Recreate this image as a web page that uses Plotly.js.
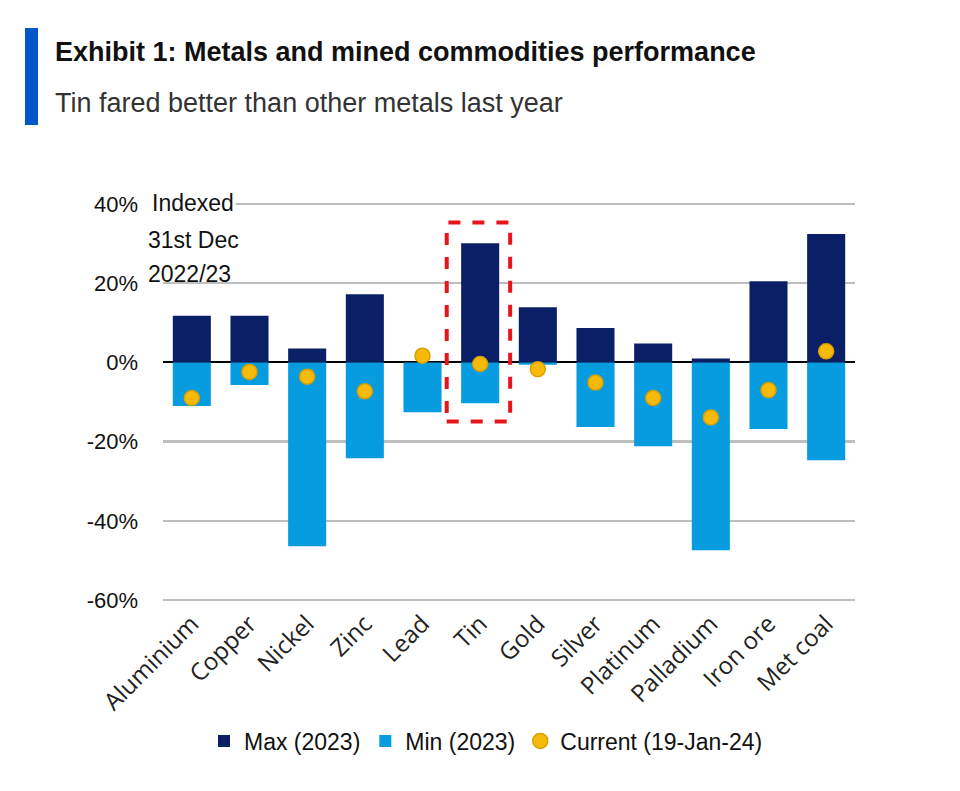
<!DOCTYPE html>
<html><head><meta charset="utf-8">
<script src="https://cdn.plot.ly/plotly-3.0.1.min.js"></script>
<style>body{margin:0;background:#fff}#chart{width:960px;height:791px}</style>
</head><body><div id="chart"></div>
<script>
var categories = ["Aluminium","Copper","Nickel","Zinc","Lead","Tin","Gold","Silver","Platinum","Palladium","Iron ore","Met coal"];
var maxValues = [11.8, 11.8, 3.5, 17.2, 0, 30.1, 13.9, 8.7, 4.8, 1.0, 20.5, 32.4];
var minValues = [-11.0, -5.7, -46.4, -24.2, -12.6, -10.3, -0.6, -16.3, -21.2, -47.4, -16.8, -24.7];
var currentValues = [-9.0, -2.4, -3.6, -7.3, 1.7, -0.4, -1.7, -5.1, -9.0, -13.9, -7.0, 2.8];
var yTicks = [-60, -40, -20, 0, 20, 40];
var yTickLabels = ["-60%", "-40%", "-20%", "0%", "20%", "40%"];

var W = 960, H = 791, L = 163, R = 105, T = 200, B = 187;
var pw = W - L - R, ph = H - T - B;
function px(x){ return (x - L) / pw; }
function py(y){ return (H - B - y) / ph; }

var narrow = "Liberation Sans Narrow, Arial Narrow, Liberation Sans, sans-serif";
var traces = [
  {type:"bar", name:"Max (2023)", x:categories, y:maxValues, width:0.66,
   marker:{color:"#0B1F66"}, hoverinfo:"skip"},
  {type:"bar", name:"Min (2023)", x:categories, y:minValues, width:0.66,
   marker:{color:"#079CDF"}, hoverinfo:"skip"},
  {type:"scatter", mode:"markers", name:"Current (19-Jan-24)", x:categories, y:currentValues,
   marker:{color:"#F7BA0B", size:15, line:{color:"#D9A100", width:1.5}}, hoverinfo:"skip"}
];

var layout = {
  width: W, height: H,
  margin:{l:L, r:R, t:T, b:B},
  paper_bgcolor:"#fff", plot_bgcolor:"#fff",
  barmode:"overlay",
  showlegend:true,
  legend:{orientation:"h", x:px(486), xanchor:"center", y:py(741), yanchor:"middle",
          font:{family:narrow, size:23, color:"#111"}, itemwidth:30, traceorder:"normal"},
  xaxis:{range:[-0.5, 11.5], tickangle:-45, tickfont:{family:"Open Sans, Noto Sans, sans-serif", size:24, color:"#222"},
         showgrid:false, zeroline:false, showline:false, ticks:"", automargin:false},
  yaxis:{range:[-61, 41], tickvals:yTicks, ticktext:yTickLabels,
         tickfont:{family:"Liberation Sans, Arial, sans-serif", size:22, color:"#111"},
         showgrid:true, gridcolor:"#BEBEBE", gridwidth:2.5,
         zeroline:true, zerolinecolor:"#000", zerolinewidth:2,
         showline:false, ticks:"", ticklabelstandoff:24, automargin:false},
  shapes:[
    {type:"rect", xref:"paper", yref:"paper", x0:px(25), x1:px(38), y0:py(125), y1:py(28),
     fillcolor:"#0057C9", line:{width:0}},
    {type:"rect", xref:"x", yref:"y", x0:4.42, x1:5.52, y0:-14.9, y1:35.3,
     line:{color:"#E8141B", width:4, dash:"dash"}, fillcolor:"rgba(0,0,0,0)", layer:"above"}
  ],
  annotations:[
    {xref:"paper", yref:"paper", x:px(53), y:py(52), xanchor:"left", yanchor:"middle", showarrow:false,
     text:"<b>Exhibit 1: Metals and mined commodities performance</b>",
     font:{family:narrow, size:27, color:"#111"}},
    {xref:"paper", yref:"paper", x:px(53), y:py(103), xanchor:"left", yanchor:"middle", showarrow:false,
     text:"Tin fared better than other metals last year",
     font:{family:narrow, size:27, color:"#333"}},
    {xref:"paper", yref:"paper", x:px(150), y:py(203), xanchor:"left", yanchor:"middle", showarrow:false,
     text:"Indexed", bgcolor:"#fff", borderpad:1,
     font:{family:"Liberation Sans, Arial, sans-serif", size:23, color:"#111"}},
    {xref:"paper", yref:"paper", x:px(146), y:py(240), xanchor:"left", yanchor:"middle", showarrow:false,
     text:"31st Dec",
     font:{family:"Liberation Sans, Arial, sans-serif", size:23, color:"#111"}},
    {xref:"paper", yref:"paper", x:px(146), y:py(274), xanchor:"left", yanchor:"middle", showarrow:false,
     text:"2022/23",
     font:{family:"Liberation Sans, Arial, sans-serif", size:23, color:"#111"}}
  ]
};
Plotly.newPlot("chart", traces, layout, {displayModeBar:false, staticPlot:true});
</script></body></html>
